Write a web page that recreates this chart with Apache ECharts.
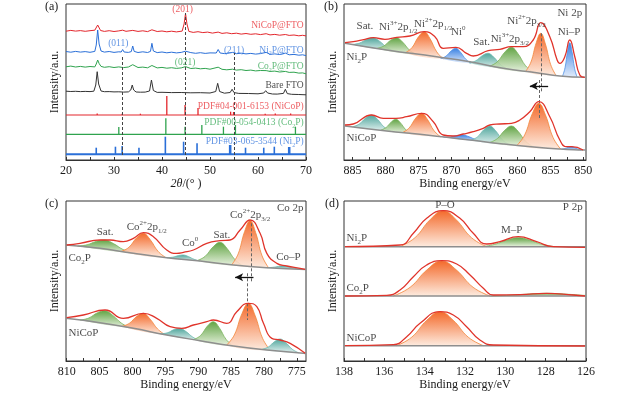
<!DOCTYPE html>
<html><head><meta charset="utf-8">
<script src="https://cdn.jsdelivr.net/npm/echarts@6/dist/echarts.min.js"></script>
<style>html,body{margin:0;padding:0;background:#fff}#c{width:640px;height:393px}</style>
</head><body><div id="c"></div>
<script>
// ---------------- DATA ----------------
// (a) XRD
const A_LABELS = [20,30,40,50,60,70];
const A_TICKS = [20,25,30,35,40,45,50,55,60,65,70];
const XRD_NICOP = [[20,128.8],[21,129.6],[22,128.9],[23,129.4],[24,128.7],[25,129.3],[26,129.8],[26.6,135],[27.2,129.5],[28,128.6],[29,129.3],[30,128.5],[31,129.1],[31.8,129.8],[32.5,128.7],[33.9,129.6],[35,128.6],[36,129.2],[37,128.4],[37.9,130.2],[39,128.5],[40,129],[41,128.2],[42,128.8],[43,128.1],[44.2,128.9],[44.6,136],[44.9,146.5],[45.2,136],[45.6,128.6],[46.5,127.6],[47.5,128.3],[48.5,127.4],[49.5,127.9],[50.5,126.9],[51.7,127.9],[52.5,126.6],[53.5,127.2],[54.5,126.3],[55.5,126.8],[56.5,125.9],[57.5,126.5],[58.5,125.7],[59.5,126.2],[60.5,125.4],[61.7,126.3],[62.5,125.1],[63.5,125.6],[64.5,124.8],[65.7,125.5],[66.5,124.6],[67.5,125],[68.5,124.2],[69.3,124.7],[70,124.1]];
const XRD_NI2P = [[20,108.5],[21,107.8],[22,108.6],[23,107.9],[24,108.4],[25,107.7],[26,108.6],[26.3,115],[26.6,130],[26.9,116],[27.3,109],[28,107.9],[29,108.5],[30,107.6],[31,108.2],[31.5,108],[31.8,110.5],[32.1,108],[33,107.6],[33.6,108.4],[33.9,114],[34.2,108.6],[35,107.5],[36,108.2],[37,107.5],[37.6,108.6],[37.9,116.7],[38.2,109],[39,107.4],[40,108],[41,107.2],[42,107.8],[43,107.1],[44,107.6],[44.9,108.8],[46,107.4],[47,106.7],[48,107.3],[49,106.6],[50,107.1],[51.3,107],[51.7,110.5],[52.1,107],[53,106.4],[54,106.9],[54.7,107.6],[55.5,106.3],[56.5,106.8],[57.5,106.1],[58.5,106.6],[59.5,105.9],[60.5,106.4],[61.7,107.6],[62.5,105.7],[63.5,106.1],[64.5,105.5],[65.7,106.9],[66.5,105.2],[67.5,105.6],[68.5,104.8],[69.3,105.2],[70,104.4]];
const XRD_CO2P = [[20,93.2],[21,93.9],[22,93],[23,93.6],[24,92.9],[25,93.5],[26,93.1],[26.3,96],[26.6,100],[26.9,96.5],[27.3,93.6],[28,92.7],[29,93.3],[30,92.5],[31,93.1],[32,92.4],[33,93],[33.9,95.3],[35,92.5],[36,92.9],[37,92.2],[37.9,94.5],[39,92.1],[40,92.6],[41,91.8],[42,92.3],[43,91.6],[44,92.1],[44.9,93.4],[46,91.5],[47,91.9],[48,91.2],[49,91.6],[50,90.8],[51.7,92.8],[52.5,90.7],[53.5,90.2],[54.7,90.8],[55.5,89.9],[56.5,90.3],[57.5,89.5],[58.5,89.9],[59.5,89.1],[60.5,89.5],[61.7,89.4],[62.5,88.6],[63.5,88.9],[64.5,88],[65.7,88.6],[66.5,87.6],[67.5,87.8],[68.5,86.9],[69.3,87.1],[70,86.2]];
const XRD_FTO = [[20,68.8],[21,68.5],[22,68.7],[23,68.4],[24,68.6],[25,68.4],[25.8,68.8],[26.2,75],[26.5,88.3],[26.8,76],[27.3,69],[28,68.3],[29,68.4],[30,68.1],[31,68.2],[32,67.9],[33,68.1],[33.5,70],[33.8,75],[34.1,70],[34.6,68],[35.5,67.8],[36.5,67.9],[37.4,69],[37.8,80],[38.2,69.5],[39,67.6],[40,67.7],[42,67.4],[44,67.5],[46,67.2],[48,67.3],[50,67],[51.2,68.5],[51.6,76.7],[52,68.5],[53,66.8],[54.2,67.5],[54.6,70.7],[55,67.4],[56,66.6],[58,66.5],[60,66.2],[61.2,67],[61.6,69.3],[62,67],[63,66],[64,65.9],[65.3,66.6],[65.7,70.7],[66.1,66.4],[67,65.7],[68.5,65.5],[70,65.2]];
const REF_NICOP_BASE = 45;
const REF_NICOP = [[26.5,46.5],[31.7,46.3],[35.5,46.3],[41.0,64],[44.8,55],[47.5,52],[54.3,48.3],[54.9,48],[61.5,46.3],[63.6,46.5],[66.8,46.5]];
const REF_CO2P_BASE = 25.7;
const REF_CO2P = [[31.0,33],[40.8,41.7],[44.8,33.3],[48.3,35],[52.8,33.3],[55.3,35],[67.8,33.3]];
const REF_NI2P_BASE = 5.7;
const REF_NI2P = [[26.3,12.3],[30.3,13.3],[31.7,14],[35.2,12.3],[40.7,23.3],[44.5,18.3],[47.3,16.7],[54.1,15],[54.3,15],[57.4,12.3],[61.2,12.3],[63.4,13.3],[66.4,13],[66.6,13]];
const DASH_A = [[31.8,5,105],[44.9,5,147],[55.0,5,107]];
const ANNOT_A = [['(201)',44.3,150.7,'c'],['NiCoP@FTO',69.6,135,'r'],['(011)',30.9,116.7,'c'],['Ni{s|2}P@FTO',69.6,110,'r'],['(211)',55.0,110,'c'],['(021)',44.8,97.3,'c'],['Co{s|2}P@FTO',69.6,93.3,'r'],['Bare FTO',69.6,75,'r'],['PDF#04-001-6153 (NiCoP)',69.6,54,'r'],['PDF#00-054-0413 (Co{s|2}P)',69.6,37.3,'r'],['PDF#03-065-3544 (Ni{s|2}P)',69.6,18.3,'r']];
const ANNOT_A_COLOR = ['red','red','blue','blue','blue','green','green','black','red','green','blue'];

// (b) Ni 2p
const B_LABELS = [885,880,875,870,865,860,855,850];
const B_TICKS = [885,882.5,880,877.5,875,872.5,870,867.5,865,862.5,860,857.5,855,852.5,850];
const B_UP_BG = [[886.15,116.7],[879.83,110],[872.26,103.3],[867.21,98.3],[862.16,91.7],[857.11,87.3],[853.57,84],[849.78,82.7]];
const B_UP_ENV = [[886.15,117.3],[884.89,118.3],[883.12,120.7],[881.86,122.3],[880.09,120.7],[878.32,122.7],[876.3,124],[874.13,128.3],[872.51,123.3],[871.25,111.7],[869.33,112.7],[867.71,106.7],[866.7,104],[864.43,109.3],[862.66,110.7],[860.9,113.3],[859.13,113.3],[857.61,120],[856.45,137.3],[855.09,123.3],[853.98,100],[853.57,96.7],[852.81,103.3],[852.06,120],[851.3,103.3],[850.54,85],[849.78,82.7]];
const B_UP_PEAKS = [
 [[885.06,115.5],[883.94,116.9],[882.82,120.8],[881.86,122.3],[880.9,118.8],[879.78,112.5],[878.66,108.9]],
 [[881.32,111.6],[880.27,114.0],[879.22,119.75],[878.32,122.3],[877.42,117.95],[876.37,109.95],[875.32,105.4]],
 [[877.03,107.2],[876.02,112.1],[875.0,123.2],[874.13,128.3],[873.26,121.4],[872.24,108.2],[871.23,101.1]],
 [[871.63,101.55],[870.83,103.85],[870.02,109.3],[869.33,111.7],[868.64,107.86],[867.83,100.74],[867.03,96.75]],
 [[867.33,97.08],[866.32,99.19],[865.3,104.45],[864.43,106.7],[863.56,102.64],[862.54,95.26],[861.53,91.08]],
 [[864.2,93.82],[863.05,98.18],[861.89,108.04],[860.9,112.7],[859.91,106.28],[858.76,94.17],[857.6,87.59]],
 [[858.75,88.61],[857.95,97.94],[857.14,117.28],[856.45,126.7],[855.76,116.05],[854.95,95.27],[854.15,84.52]],
 [[853.16,83.85],[852.78,92.18],[852.39,108.96],[852.06,117.3],[851.73,108.73],[851.34,91.69],[850.96,83.1]]
];
const B_LOW_BG = [[886.15,34],[879.83,29],[874.78,25.7],[870.74,22.7],[867.21,20],[862.16,16],[857.11,12.7],[853.57,11],[850.04,10],[849.6,9.9]];
const B_LOW_ENV = [[886.15,35],[884.89,36],[882.11,45],[880.34,41.7],[878.42,41.7],[876.8,43.3],[874.53,46.7],[872.76,38.3],[871.25,25],[869.73,24],[868.22,26],[866.7,28.3],[865.19,31.7],[864.18,35],[862.66,36],[860.9,36.7],[859.63,40],[858.12,48.3],[856.75,58.3],[855.09,43.3],[853.57,20],[852.56,13.3],[851.8,13.3],[850.04,10]];
const B_LOW_PEAKS = [
 [[885.01,33.14],[883.99,35.88],[882.98,42.15],[882.11,45],[881.24,40.84],[880.23,33.06],[879.21,28.79]],
 [[880.72,29.92],[879.92,32.45],[879.11,38.09],[878.42,40.7],[877.73,37.06],[876.92,30.2],[876.12,26.47]],
 [[877.43,27.45],[876.42,32.06],[875.4,42.0],[874.53,46.7],[873.66,40.7],[872.64,29.22],[871.63,23.1]],
 [[871.22,22.8],[870.17,23.11],[869.12,24.56],[868.22,25],[867.32,23.21],[866.27,20.19],[865.22,18.3]],
 [[867.08,19.69],[866.07,23.05],[865.05,30.53],[864.18,34],[863.31,29.22],[862.29,20.22],[861.28,15.47]],
 [[864.2,17.53],[863.05,21.36],[861.89,29.89],[860.9,34],[859.91,28.74],[858.76,18.7],[857.6,13.34]],
 [[860.05,14.76],[858.9,25.06],[857.74,46.32],[856.75,56.7],[855.76,45.17],[854.6,22.57],[853.45,10.95]],
 [[853.3,10.9],[852.78,11.47],[852.25,12.73],[851.8,13.3],[851.35,12.48],[850.83,10.92],[850.3,10.07]]
];
const B_KIND = ['teal','green','orange','blue','teal','green','orange','blue'];
const DASH_B = [[856.45,126.7,68.3],[856.75,80,40]];
const ARROW_B = [855.34,858.12,74];
const ANNOT_B = [['Sat.',883.12,134,'c'],['Ni{u|3+}2p{s|1/2}',878.07,133.3,'c'],['Ni{u|2+}2p{s|1/2}',872.77,136,'c'],['Ni{u|0}',868.98,127.7,'c'],['Sat.',865.44,117.7,'c'],['Ni{u|3+}2p{s|3/2}',861.15,121,'c'],['Ni{u|2+}2p{s|3/2}',858.62,139.3,'c'],['Ni 2p',852.06,147.3,'c'],['Ni–P',852.16,128.3,'c'],['Ni{s|2}P',886.0,103.3,'l'],['NiCoP',886.0,22.3,'l']];

// (c) Co 2p
const C_LABELS = [810,805,800,795,790,785,780,775];
const C_TICKS = [810,807.5,805,802.5,800,797.5,795,792.5,790,787.5,785,782.5,780,777.5,775];
const C_UP_BG = [[810.1,116],[804.93,112.67],[799.85,107.67],[794.78,103.33],[789.71,100],[784.63,96],[779.56,93.33],[773.6,91.6]];
const C_UP_ENV = [[810.0,116],[807.97,117.67],[804.93,121],[803.4,121],[801.38,119.33],[799.85,122.67],[798.33,128.33],[796.81,124.33],[794.78,111],[793.26,107.67],[792.24,108.67],[790.72,111],[788.69,117.67],[786.66,120.33],[785.14,121],[783.62,131],[782.1,141],[780.58,127.67],[779.56,107.67],[778.04,97.67],[776.52,95],[774.49,92.67],[773.73,91.67]];
const C_UP_PEAKS = [
 [[808.36,114.92],[806.89,116.23],[805.42,119.81],[804.16,121],[802.9,117.49],[801.43,111.49],[799.96,107.78]],
 [[801.73,109.52],[800.54,113.68],[799.35,123.22],[798.33,127.67],[797.31,121.48],[796.12,109.81],[794.93,103.46]],
 [[794.74,103.3],[793.87,103.82],[792.99,105.41],[792.24,106],[791.49,104.43],[790.61,101.68],[789.74,100.02]],
 [[790.16,100.3],[788.94,104.66],[787.71,114.22],[786.66,118.67],[785.61,112.57],[784.38,101.14],[783.16,95.23]],
 [[784.9,96.21],[783.92,107.05],[782.94,129.36],[782.1,140.33],[781.26,128.48],[780.28,105.13],[779.3,93.26]],
 [[779.53,93.32],[778.66,93.67],[777.78,94.61],[777.03,95],[776.28,94.19],[775.4,92.75],[774.53,91.9]]
];
const C_LOW_BG = [[810.1,42.67],[804.93,38.33],[799.85,32.67],[794.78,26],[789.71,20.33],[784.63,15],[779.56,11],[773.6,7.6]];
const C_LOW_ENV = [[810.0,43.33],[807.46,46],[804.16,51],[801.38,42.67],[798.33,47.67],[796.3,42.67],[794.27,34.33],[792.5,32.67],[790.72,36],[788.69,39.33],[787.68,41],[785.65,37.67],[784.13,49.33],[782.35,57.67],[781.08,54.33],[780.07,37.67],[778.8,22.67],[777.53,21],[776.01,17.67],[773.73,7.67]];
const C_LOW_PEAKS = [
 [[807.96,40.92],[806.63,43.01],[805.3,48.3],[804.16,50.33],[803.02,45.85],[801.69,37.94],[800.36,33.24]],
 [[801.63,34.65],[800.48,37.62],[799.32,44.72],[798.33,47.67],[797.34,42.12],[796.18,32.09],[795.03,26.33]],
 [[795.75,27.28],[794.7,28.15],[793.65,31.44],[792.75,32.67],[791.85,29.43],[790.8,23.79],[789.75,20.37]],
 [[790.68,21.41],[789.63,25.53],[788.58,34.99],[787.68,39.33],[786.78,33.11],[785.73,21.43],[784.68,15.05]],
 [[785.65,16.07],[784.5,26.02],[783.34,47.33],[782.35,57.67],[781.36,45.77],[780.2,22.62],[779.05,10.71]],
 [[780.33,11.61],[779.35,13.92],[778.37,19.44],[777.53,22],[776.69,18.48],[775.71,11.84],[774.73,8.24]]
];
const C_KIND = ['green','orange','teal','green','orange','teal'];
const DASH_C = [[782.0,137.7,79.3],[782.6,87.7,41]];
const ARROW_C = [781.59,784.38,83.67];
const ANNOT_C = [['Co 2p',773.9,152.7,'r'],['Sat.',804.16,129.3,'c'],['Co{u|2+}2p{s|1/2}',797.82,134.3,'c'],['Co{u|0}',791.23,117.7,'c'],['Sat.',786.4,126,'c'],['Co{u|2+}2p{s|3/2}',782.1,146,'c'],['Co–P',776.27,104.3,'c'],['Co{s|2}P',809.8,102.7,'l'],['NiCoP',809.8,27.7,'l']];

// (d) P 2p
const D_LABELS = [138,136,134,132,130,128,126];
const D_TICKS = [138,137,136,135,134,133,132,131,130,129,128,127,126];
const D_NI_BG = [[138,114.33],[126,114.33]];
const D_NI_ENV = [[137.95,114.33],[135.22,116],[134.56,127.67],[133.9,142.67],[133.08,150.33],[132.25,142.67],[131.59,127.67],[130.93,117],[130.27,119.33],[129.36,124.33],[128.45,119.33],[127.62,114.33],[126.05,113.67]];
const D_NI_PEAKS = [
 [[135.23,114.33],[134.48,123.33],[133.73,141.33],[133.08,150.33],[132.44,141.33],[131.68,123.33],[130.93,114.33]],
 [[131.16,114.33],[130.53,116.58],[129.9,121.08],[129.36,123.33],[128.82,121.08],[128.19,116.58],[127.56,114.33]]
];
const D_CO_BG = [[138,65],[126,65]];
const D_CO_ENV = [[137.95,65],[135.88,65.67],[135.22,71],[134.56,84.33],[133.9,96],[133.16,100.33],[132.41,97],[131.75,86],[131.09,72.67],[130.6,66],[129.27,66.33],[127.95,67.67],[126.63,66],[126.05,65]];
const D_CO_PEAKS = [
 [[135.56,65],[134.72,73.75],[133.88,91.25],[133.16,100],[132.44,91.25],[131.6,73.75],[130.76,65]],
 [[130.75,65],[129.77,65.67],[128.79,67],[127.95,67.67],[127.11,67],[126.13,65.67],[126.0,65.5]]
];
const D_NICOP_BG = [[138,15.33],[126,15.33]];
const D_NICOP_ENV = [[137.95,15.33],[135.55,16.33],[134.89,24.33],[134.23,37.67],[133.24,49.33],[132.58,46],[131.92,34.33],[131.26,21],[130.6,16],[126.05,15]];
const D_NICOP_PEAKS = [
 [[135.39,15.33],[134.64,23.83],[133.89,40.83],[133.24,49.33],[132.59,40.83],[131.84,23.83],[131.09,15.33]]
];
const D_KIND2 = ['orange','green'];
const D_KIND1 = ['orange'];
const ANNOT_D = [['P–O',132.99,156,'c'],['P 2p',126.14,154.3,'r'],['M–P',129.69,131,'c'],['Ni{s|2}P',137.9,123.3,'l'],['Co{s|2}P',137.9,72.7,'l'],['NiCoP',137.9,22.7,'l']];

// ---------------- STYLE ----------------
const FONT = '"Liberation Serif","Times New Roman",serif';
const COL = {red:'#e3262c', blue:'#2a6fd8', green:'#2fa34e', black:'#333333'};
const TXT = {red:'#e8343a', blue:'#3a79dc', green:'#3dab5c', black:'#222222'};
const PEAK_STYLE = {
  orange:{top:'#f2560f', bottom:'#fde8da', line:'#f2853a'},
  green:{top:'#4d982c', bottom:'#e5f0dc', line:'#78b35c'},
  teal:{top:'#389a8f', bottom:'#deefed', line:'#6fb9b0'},
  blue:{top:'#1f70df', bottom:'#dce8fa', line:'#4f90e6'}
};
const BG_COLOR = '#8e8e8e';
const ENV_COLOR = '#e0342b';

function richSet(color, fs) {
  const small = Math.round(fs * 0.64);
  return {
    u: {fontFamily: FONT, fontSize: small, color: color, lineHeight: small + 1, verticalAlign: 'top'},
    s: {fontFamily: FONT, fontSize: small, color: color, lineHeight: small + 1, verticalAlign: 'bottom'}
  };
}

function xAx(g, min, max, inverse, labels, ticks, name, rich) {
  return {type:'value', gridIndex:g, min:min, max:max, inverse:inverse,
    axisLine:{show:true, onZero:false, lineStyle:{color:'#333', width:1}},
    axisTick:{show:true, inside:true, length:3, customValues:ticks, lineStyle:{color:'#333'}},
    axisLabel:{show:true, customValues:labels, fontFamily:FONT, fontSize:12, color:'#1a1a1a', margin:5},
    splitLine:{show:false},
    name:name, nameLocation:'middle', nameGap:18,
    nameTextStyle:{fontFamily:FONT, fontSize:12, color:'#1a1a1a', rich:rich}};
}
function yAx(g, max) {
  return {type:'value', gridIndex:g, min:0, max:max,
    axisLine:{show:false}, axisTick:{show:false}, axisLabel:{show:false}, splitLine:{show:false},
    name:'Intensity/a.u.', nameLocation:'middle', nameGap:5,
    nameTextStyle:{fontFamily:FONT, fontSize:12, color:'#1a1a1a'}};
}
function lineS(g, data, color, width, smooth, z, extra) {
  return Object.assign({type:'line', xAxisIndex:g, yAxisIndex:g, data:data, showSymbol:false, symbol:'none',
    smooth:smooth, silent:true, z:z, lineStyle:{color:color, width:width}, itemStyle:{color:color}}, extra || {});
}
function peakS(g, peaks, kinds) {
  return {type:'custom', xAxisIndex:g, yAxisIndex:g, silent:true, z:2, clip:true,
    data: peaks.map(function(p, i){ return [p[3][0], p[3][1], i]; }),
    encode:{x:0, y:1},
    renderItem: function(params, api) {
      const i = api.value(2);
      const pts = peaks[i].map(function(q){ return api.coord(q); });
      const st = PEAK_STYLE[kinds[i]];
      let minx=Infinity,miny=Infinity,maxx=-Infinity,maxy=-Infinity;
      pts.forEach(function(p){ minx=Math.min(minx,p[0]); maxx=Math.max(maxx,p[0]); miny=Math.min(miny,p[1]); maxy=Math.max(maxy,p[1]); });
      const cons = [[minx,miny],[maxx,maxy]];
      return {type:'group', children:[
        {type:'polygon', shape:{points:pts, smooth:0.45, smoothConstraint:cons},
          style:{fill:new echarts.graphic.LinearGradient(0,0,0,1,[{offset:0,color:st.top},{offset:1,color:st.bottom}]), opacity:0.88}},
        {type:'polyline', shape:{points:pts, smooth:0.45, smoothConstraint:cons},
          style:{stroke:st.line, lineWidth:0.8, fill:null}}
      ]};
    }};
}
function stickS(g, sticks, base, color, width) {
  return {type:'custom', xAxisIndex:g, yAxisIndex:g, silent:true, z:3,
    data: sticks, encode:{x:0, y:1},
    renderItem: function(params, api) {
      const x = api.value(0), y = api.value(1);
      const p0 = api.coord([x, base]), p1 = api.coord([x, y]);
      return {type:'line', shape:{x1:p0[0], y1:p0[1], x2:p1[0], y2:p1[1]}, style:{stroke:color, lineWidth:width}};
    }};
}
function annotS(g, list, colorFn, fs) {
  return {type:'scatter', xAxisIndex:g, yAxisIndex:g, silent:true, z:10, symbolSize:1,
    itemStyle:{color:'rgba(0,0,0,0)'},
    data: list.map(function(a, i){
      const col = colorFn(i);
      const pos = a[3] === 'c' ? 'inside' : (a[3] === 'l' ? 'right' : 'left');
      return {value:[a[1], a[2]], label:{show:true, position:pos, distance:0,
        formatter: function(){ return a[0]; },
        fontFamily:FONT, fontSize:fs, color:col, lineHeight:fs+4, rich:richSet(col, fs)}};
    })};
}
function dashML(list, color) {
  return {silent:true, symbol:['none','none'], label:{show:false}, animation:false,
    lineStyle:{color:color, type:[3,2], width:1},
    data: list.map(function(d){ return [{coord:[d[0], d[1]]}, {coord:[d[0], d[2]]}]; })};
}
function arrowML(a) {
  return {silent:true, symbol:['none','arrow'], symbolSize:[6,8], label:{show:false}, animation:false,
    lineStyle:{color:'#111', type:'solid', width:1.3},
    data:[[{coord:[a[0], a[2]]}, {coord:[a[1], a[2]]}]]};
}

// ---------------- OPTION ----------------
const series = [];
// (a)
series.push(lineS(0, XRD_NICOP, COL.red, 1, false, 4));
series.push(lineS(0, XRD_NI2P, COL.blue, 1, false, 4));
series.push(lineS(0, XRD_CO2P, COL.green, 1, false, 4));
series.push(lineS(0, XRD_FTO, COL.black, 1, false, 4, {markLine: dashML(DASH_A, '#444')}));
series.push(lineS(0, [[20,REF_NICOP_BASE],[70,REF_NICOP_BASE]], COL.red, 1.2, false, 3));
series.push(lineS(0, [[20,REF_CO2P_BASE],[70,REF_CO2P_BASE]], COL.green, 1.2, false, 3));
series.push(lineS(0, [[20,REF_NI2P_BASE],[70,REF_NI2P_BASE]], COL.blue, 2, false, 3));
series.push(stickS(0, REF_NICOP, REF_NICOP_BASE, COL.red, 1.3));
series.push(stickS(0, REF_CO2P, REF_CO2P_BASE, COL.green, 1.3));
series.push(stickS(0, REF_NI2P, REF_NI2P_BASE, COL.blue, 1.6));
series.push(annotS(0, ANNOT_A, function(i){ return TXT[ANNOT_A_COLOR[i]]; }, 9.5));
// (b)
series.push(peakS(1, B_UP_PEAKS, B_KIND));
series.push(peakS(1, B_LOW_PEAKS, B_KIND));
series.push(lineS(1, B_UP_BG, BG_COLOR, 1.5, true, 3, {markLine: dashML(DASH_B, '#666')}));
series.push(lineS(1, B_LOW_BG, BG_COLOR, 1.5, true, 3));
series.push(lineS(1, B_UP_ENV, ENV_COLOR, 1.3, true, 5, {markLine: arrowML(ARROW_B)}));
series.push(lineS(1, B_LOW_ENV, ENV_COLOR, 1.3, true, 5));
series.push(annotS(1, ANNOT_B, function(){ return '#1a1a1a'; }, 11));
// (c)
series.push(peakS(2, C_UP_PEAKS, C_KIND));
series.push(peakS(2, C_LOW_PEAKS, C_KIND));
series.push(lineS(2, C_UP_BG, BG_COLOR, 1.5, true, 3, {markLine: dashML(DASH_C, '#666')}));
series.push(lineS(2, C_LOW_BG, BG_COLOR, 1.5, true, 3));
series.push(lineS(2, C_UP_ENV, ENV_COLOR, 1.3, true, 5, {markLine: arrowML(ARROW_C)}));
series.push(lineS(2, C_LOW_ENV, ENV_COLOR, 1.3, true, 5));
series.push(annotS(2, ANNOT_C, function(){ return '#1a1a1a'; }, 11));
// (d)
series.push(peakS(3, D_NI_PEAKS, D_KIND2));
series.push(peakS(3, D_CO_PEAKS, D_KIND2));
series.push(peakS(3, D_NICOP_PEAKS, D_KIND1));
series.push(lineS(3, D_NI_BG, BG_COLOR, 1.5, false, 3));
series.push(lineS(3, D_CO_BG, BG_COLOR, 1.5, false, 3));
series.push(lineS(3, D_NICOP_BG, BG_COLOR, 1.5, false, 3));
series.push(lineS(3, D_NI_ENV, ENV_COLOR, 1.3, true, 5));
series.push(lineS(3, D_CO_ENV, ENV_COLOR, 1.3, true, 5));
series.push(lineS(3, D_NICOP_ENV, ENV_COLOR, 1.3, true, 5));
series.push(annotS(3, ANNOT_D, function(){ return '#1a1a1a'; }, 11));

function gridBox(l, t, w, h) {
  return {left:l, top:t, width:w, height:h, show:true, borderColor:'#333', borderWidth:1,
    backgroundColor:'rgba(0,0,0,0)', containLabel:false, outerBoundsMode:'none'};
}
const panelLabel = function(txt, l, t) {
  return {type:'text', left:l, top:t, silent:true,
    style:{text:txt, fontFamily:FONT, fontSize:12, fill:'#1a1a1a'}};
};

const option = {
  animation:false,
  backgroundColor:'#ffffff',
  textStyle:{fontFamily:FONT},
  grid:[gridBox(66,4,240,156), gridBox(344,4,242,156), gridBox(66,201,240,160), gridBox(344,201,242,160)],
  xAxis:[
    xAx(0, 20, 70, false, A_LABELS, A_TICKS, '{i|2θ}/(° )', {i:{fontFamily:FONT, fontSize:12, fontStyle:'italic', color:'#1a1a1a'}}),
    xAx(1, 849.6, 886.3, true, B_LABELS, B_TICKS, 'Binding energy/eV'),
    xAx(2, 773.6, 810.1, true, C_LABELS, C_TICKS, 'Binding energy/eV'),
    xAx(3, 126, 138, true, D_LABELS, D_TICKS, 'Binding energy/eV')
  ],
  yAxis:[yAx(0,156), yAx(1,156), yAx(2,160), yAx(3,160)],
  graphic:[panelLabel('(a)',45,1), panelLabel('(b)',324,1), panelLabel('(c)',45,198), panelLabel('(d)',325,198)],
  series:series
};

const chart = echarts.init(document.getElementById('c'), null, {renderer:'canvas'});
chart.setOption(option);
</script></body></html>
